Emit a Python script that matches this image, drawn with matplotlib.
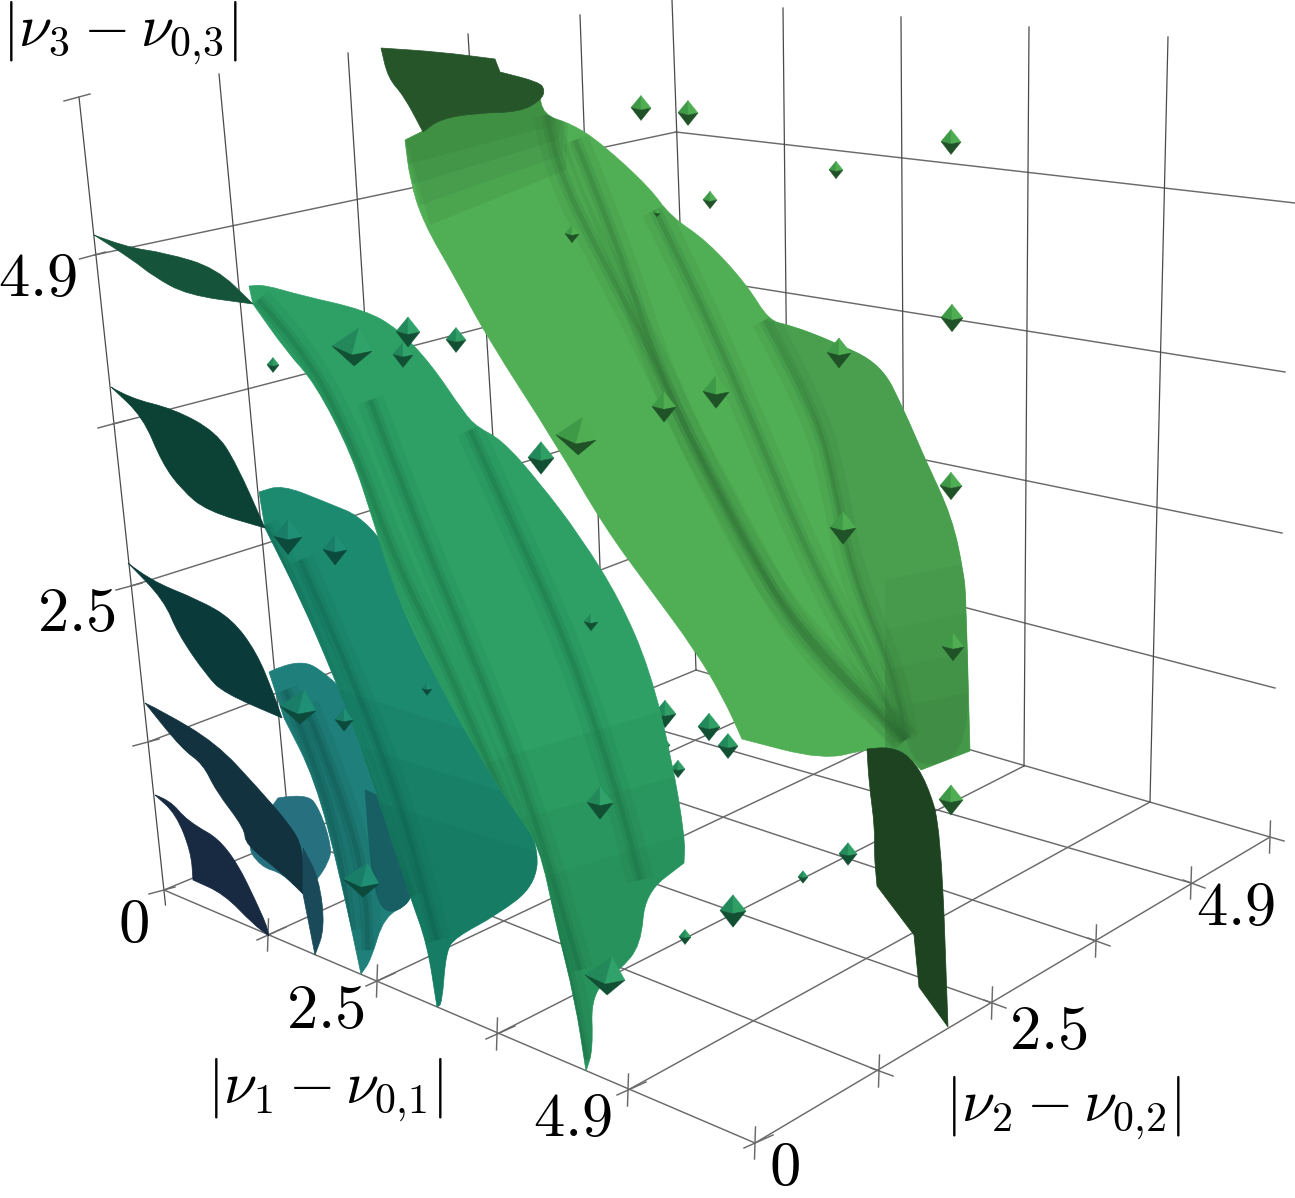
import matplotlib
matplotlib.use("Agg")
import matplotlib.pyplot as plt
from matplotlib.path import Path
from matplotlib.patches import PathPatch

plt.rcParams['mathtext.fontset'] = 'cm'

origin = (164, 890)
near = (755, 1143)
right = (1270, 837)
back_floor = (696, 670)
back_top = (676, 132)

z_ticks = [(148, 742), (131, 586), (113, 424), (94.5, 255)]
nu1_ticks = [(268, 935), (377, 981), (497, 1034), (628, 1090)]
nu2_ticks = [(879, 1071), (992, 1003), (1096, 941), (1191, 883)]

# floor and wall grid lines
floor_a = [[(268, 935), (790, 697)], [(377, 981), (905, 731)], [(497, 1034), (1024, 766)], [(628, 1090), (1150, 802)]]
floor_b = [[(294, 837), (879, 1071)], [(399, 793), (992, 1003)], [(512, 747), (1096, 941)], [(597, 712), (1191, 883)]]
left_wall_h = [[(94.5, 255), (676, 132)], [(113, 424), (681, 276)], [(131, 586), (686, 411)], [(148, 742), (690, 536)]]
left_wall_v = [[(219, 74), (290, 838)], [(348, 53), (395, 795)], [(468, 34), (512, 747)], [(580, 15), (605, 705)]]
right_wall_h = [[(676, 132), (1295, 203)], [(681, 276), (1285, 372)], [(686, 411), (1282, 533)], [(690, 536), (1275, 688)]]
right_wall_v = [[(783, 8), (790, 697)], [(901, 17), (905, 731)], [(1029, 27), (1024, 766)], [(1168, 37), (1150, 802)]]
corner_line = [(672, 0), (696, 670)]
z_axis = [(79, 97), (165.5, 905)]

# surfaces, back to front; a repeated point keeps a sharp corner
s5_body = [(405, 140), (405, 140), (423, 131), (423, 131), (440, 119), (477, 113), (510, 103), (539, 90), (539, 90),
           (543, 115), (572, 124), (601, 143), (650, 188), (670, 216), (707, 241), (747, 285), (769, 321), (790, 325),
           (832, 341), (881, 364), (904, 410), (925, 459), (952, 517), (964, 574), (966, 600), (970, 751), (970, 751),
           (921, 770), (921, 770), (902, 749), (867, 749), (823, 760), (742, 739), (742, 739), (724, 699), (695, 650),
           (650, 589), (605, 528), (556, 444), (487, 337), (456, 279), (423, 222), (410, 180)]
s5_right = [(769, 321), (790, 325), (832, 341), (881, 364), (904, 410), (925, 459), (952, 517), (964, 574), (966, 600),
            (970, 751), (921, 770), (905, 740), (895, 680), (850, 570), (835, 490), (815, 410)]
s5_shade = [[(885, 580), (885, 580), (980, 560), (980, 560), (980, 790), (980, 790), (885, 790), (885, 790)],
            [(885, 630), (885, 630), (980, 610), (980, 610), (980, 790), (980, 790), (885, 790), (885, 790)],
            [(885, 670), (885, 670), (980, 650), (980, 650), (980, 790), (980, 790), (885, 790), (885, 790)],
            [(885, 710), (885, 710), (980, 690), (980, 690), (980, 790), (980, 790), (885, 790), (885, 790)]]
s5_top = [[(395, 100), (395, 100), (570, 70), (570, 70), (555, 125), (555, 125), (405, 165), (405, 165)],
          [(395, 100), (395, 100), (570, 70), (570, 70), (558, 140), (558, 140), (410, 185), (410, 185)],
          [(395, 100), (395, 100), (570, 70), (570, 70), (562, 155), (562, 155), (420, 205), (420, 205)],
          [(395, 100), (395, 100), (570, 70), (570, 70), (566, 170), (566, 170), (430, 225), (430, 225)]]
s5_lid = [(381, 48), (381, 48), (440, 52), (495, 59), (495, 59), (500, 72), (500, 72), (539, 82), (545, 90), (541, 100),
          (520, 112), (477, 113), (440, 119), (423, 132), (423, 132), (404, 96), (388, 78)]
s5_sheet = [(867, 749), (867, 749), (890, 747), (910, 756), (927, 783), (941, 829), (948, 1027), (948, 1027), (919, 987),
            (919, 987), (914, 935), (914, 935), (877, 886), (877, 886), (874, 852), (875, 829), (869, 783)]
s5_ridges = [[(547, 115), (555, 165), (600, 255), (650, 350), (700, 460), (770, 590), (830, 660), (905, 740)],
             [(575, 140), (620, 250), (665, 390), (735, 520), (800, 640), (905, 740)],
             [(655, 210), (700, 300), (760, 440), (810, 560), (880, 690), (905, 740)],
             [(765, 320), (815, 410), (835, 490), (850, 570), (895, 680), (905, 740)]]

s1_bump = [(278, 798), (307, 793), (320, 810), (332, 848), (328, 863), (317, 880), (303, 894), (282, 873), (261, 867), (245, 844)]
s1_sheet = [(145, 703), (162, 711), (216, 743), (257, 787), (290, 825), (303, 848), (303, 894), (303, 894), (282, 873),
            (245, 844), (245, 829), (216, 791), (203, 764), (182, 749)]
s1_tail = [(303, 848), (303, 848), (319, 878), (325, 928), (315, 955), (315, 955), (303, 894), (303, 894)]
s0_sheet = [(155, 795), (170, 800), (187, 821), (228, 844), (265, 920), (269, 936), (269, 936), (253, 924), (224, 894),
            (193, 880), (193, 880), (191, 852), (176, 814)]

s2_body = [(269, 672), (298, 658), (328, 674), (370, 720), (420, 860), (412, 903), (384, 916), (371, 960), (361, 974),
           (361, 974), (340, 875), (315, 779), (284, 718), (284, 718)]
s2_mid = [(365, 790), (395, 800), (415, 870), (412, 903), (384, 916), (372, 880)]
s2_sheet = [(128, 563), (149, 580), (199, 600), (232, 619), (257, 653), (274, 695), (282, 718), (282, 718), (224, 693),
            (207, 676), (178, 634), (164, 600)]
s2_ridges = [[(285, 690), (310, 750), (340, 850), (350, 930)], [(305, 705), (340, 790), (365, 880), (368, 950)]]

s3_body = [(259, 492), (259, 492), (282, 485), (323, 501), (369, 520), (420, 600), (500, 760), (539, 844), (535, 886),
           (497, 915), (456, 937), (446, 951), (442, 1004), (437, 1007), (437, 1007), (427, 943), (410, 897), (361, 745),
           (332, 672), (301, 600), (265, 528), (265, 528)]
s3_sheet = [(111, 387), (129, 398), (174, 409), (216, 432), (236, 463), (265, 528), (265, 528), (207, 511), (182, 490),
            (162, 463), (143, 417)]
s3_ridges = [[(265, 525), (310, 620), (360, 760), (410, 897)], [(300, 560), (345, 660), (400, 800), (437, 940)]]
s3_low = [[(340, 690), (340, 690), (560, 760), (560, 760), (560, 1020), (560, 1020), (340, 1020), (340, 1020)],
          [(340, 740), (340, 740), (560, 810), (560, 810), (560, 1020), (560, 1020), (340, 1020), (340, 1020)],
          [(340, 790), (340, 790), (560, 860), (560, 860), (560, 1020), (560, 1020), (340, 1020), (340, 1020)]]

s4_body = [(249, 286), (249, 286), (265, 285), (299, 295), (365, 310), (398, 329), (431, 364), (464, 413), (477, 427),
           (502, 440), (539, 482), (580, 536), (620, 600), (650, 670), (672, 760), (685, 838), (684, 863), (684, 863),
           (645, 893), (641, 945), (620, 970), (591, 993), (593, 1050), (586, 1071), (586, 1071), (575, 1000), (556, 924),
           (539, 844), (514, 810), (477, 752), (435, 676), (398, 600), (373, 520), (352, 455), (315, 383), (287, 352),
           (253, 304), (253, 304)]
s4_sheet = [(94, 235), (125, 247), (166, 253), (216, 268), (253, 304), (253, 304), (187, 295), (153, 276), (133, 260)]
s4_ridges = [[(258, 300), (305, 350), (355, 450), (395, 560), (440, 650), (500, 790), (560, 930), (586, 1060)],
             [(370, 400), (415, 520), (470, 650), (530, 800), (580, 970)],
             [(470, 430), (520, 540), (570, 650), (620, 800), (640, 880)]]
s4_low = [[(460, 770), (460, 770), (700, 700), (700, 700), (700, 1090), (700, 1090), (460, 1090), (460, 1090)],
          [(480, 830), (480, 830), (700, 770), (700, 770), (700, 1090), (700, 1090), (480, 1090), (480, 1090)],
          [(500, 890), (500, 890), (700, 830), (700, 830), (700, 1090), (700, 1090), (500, 1090), (500, 1090)]]

# centre x, centre y, half width of the small octahedra
pts_back = [(641, 108, 10), (688, 113, 10), (951, 142, 10), (836, 170, 7), (710, 200, 7), (952, 318, 11), (951, 486, 11),
            (951, 800, 12)]
pts_on_s5 = [(657, 213, 3), (572, 234, 7), (839, 353, 12), (716, 392, 13), (664, 407, 12), (576, 436, 20), (843, 528, 13),
             (953, 647, 11)]
pts_mid_back = [(273, 365, 6), (456, 340, 10), (541, 458, 13), (665, 714, 11), (709, 727, 11), (728, 746, 10), (678, 769, 7),
                (665, 745, 5), (733, 911, 13), (848, 854, 9), (803, 877, 5), (685, 937, 6)]
pts_s4 = [(352, 347, 20), (408, 332, 12), (403, 355, 10), (591, 622, 7), (600, 803, 13), (605, 976, 20)]
pts_s3 = [(288, 537, 14), (335, 550, 12), (427, 689, 5), (344, 720, 9), (298, 707, 18), (361, 880, 18)]

tick_labels = [("4.9", 38, 279), ("2.5", 76, 614), ("0", 133, 925), ("2.5", 325, 1011), ("4.9", 573, 1119),
               ("0", 784, 1168), ("2.5", 1048, 1032), ("4.9", 1236, 908)]
axis_labels = [(r"$|\nu_3 - \nu_{0{,}3}|$", 120, 33), (r"$|\nu_1 - \nu_{0{,}1}|$", 325, 1090), (r"$|\nu_2 - \nu_{0{,}2}|$", 1063, 1108)]


def smooth(pts, closed=True):
    # quadratic curve through the midpoints, ends stay on the first point
    rest = pts[1:] + [pts[0]] if closed else pts[1:]
    verts = [pts[0]]
    codes = [Path.MOVETO]
    for a, b in zip(rest[:-1], rest[1:]):
        verts += [a, ((a[0] + b[0]) / 2, (a[1] + b[1]) / 2)]
        codes += [Path.CURVE3, Path.CURVE3]
    verts.append(rest[-1])
    codes.append(Path.LINETO)
    return Path(verts, codes)


def surface(ax, pts, color, z, clip=None, alpha=None):
    lw = 0 if alpha else 0.5
    patch = PathPatch(smooth(pts), fc=color, ec=color, lw=lw, zorder=z, alpha=alpha)
    ax.add_patch(patch)
    if clip is not None:
        patch.set_clip_path(clip)
    return patch


def ridges(ax, lines, color, clip, z, lw=9):
    for line in lines:
        for w, a in [(lw * 2.2, 0.10), (lw, 0.16), (lw * 0.4, 0.25)]:
            p = PathPatch(smooth(line, closed=False), fc='none', ec=color, lw=w, alpha=a, zorder=z, capstyle='butt')
            ax.add_patch(p)
            p.set_clip_path(clip)


def octa(ax, pts, light, mid, dark, z):
    for x, y, r in pts:
        # the big ones sit tilted and show less of their dark side
        big = r >= 16
        h = 0.95 * r if big else 1.25 * r
        lean = 0.35 * r if big else 0
        left, rgt, front = (x - r, y - 0.05 * r), (x + r, y + lean * 0.6), (x, y + (0.4 if big else 0.2) * r)
        top, bottom = (x + lean, y - h), (x + lean * 0.3, y + h)
        ax.fill(*zip(top, left, front), fc=mid, ec=mid, lw=0.3, zorder=z)
        ax.fill(*zip(top, front, rgt), fc=light, ec=light, lw=0.3, zorder=z)
        ax.fill(*zip(left, front, rgt, bottom), fc=dark, ec=dark, lw=0.3, zorder=z)


fig = plt.figure(figsize=(12.95, 11.98), dpi=100)
ax = fig.add_axes([0, 0, 1, 1])
ax.set_xlim(0, 1295)
ax.set_ylim(1198, 0)
ax.axis('off')

grid_kw = dict(color='#6a6a6a', lw=1.05, zorder=1)
wall_kw = dict(color='#4a4a4a', lw=0.9, zorder=1)
for line in floor_a + floor_b:
    ax.plot(*zip(*line), **grid_kw)
ax.plot(*zip(origin, near), **grid_kw)
ax.plot(*zip(near, right, (1284, 841)), **grid_kw)
ax.plot(*zip(origin, back_floor), **grid_kw)
ax.plot(*zip(back_floor, right), **grid_kw)
for line in left_wall_h + right_wall_h:
    ax.plot(*zip(*line), **grid_kw)
for line in left_wall_v + right_wall_v:
    ax.plot(*zip(*line), **wall_kw)
ax.plot(*zip(*corner_line), **wall_kw)
ax.plot(*zip(*z_axis), **wall_kw)

# tick crosses
for x, y in z_ticks + [origin, (79, 97)]:
    ax.plot([x - 15, x + 11], [y + 4, y - 3], **grid_kw)
for x, y in nu1_ticks + nu2_ticks + [near, right]:
    ax.plot([x + 0.5, x - 0.5], [y - 16, y + 16], **grid_kw)
for x, y in nu1_ticks + [near]:
    ax.plot([x - 11, x + 18], [y + 5, y - 8], **grid_kw)
for x, y in nu2_ticks:
    ax.plot([x - 8, x + 14], [y - 3, y + 5], **grid_kw)

octa(ax, pts_back, '#4fae52', '#3f9a47', '#1f5226', 2)

b5 = surface(ax, s5_body, '#50ae54', 3)
surface(ax, s5_right, '#4a9f4e', 3.1, clip=b5)
for pts in s5_shade:
    surface(ax, pts, '#2f6f35', 3.15, clip=b5, alpha=0.09)
for pts in s5_top:
    surface(ax, pts, '#2f6f35', 3.15, clip=b5, alpha=0.14)
ridges(ax, s5_ridges, '#2c6a33', b5, 3.2)
surface(ax, s5_lid, '#27552a', 3.4)
octa(ax, pts_on_s5, '#4fae52', '#3f9a47', '#1f5226', 3.5)
surface(ax, s5_sheet, '#1d4320', 3.6)

octa(ax, pts_mid_back, '#2f9f66', '#22895a', '#125034', 3.7)

surface(ax, s1_bump, '#26707f', 4)
surface(ax, s1_sheet, '#12323f', 4.1)
surface(ax, s1_tail, '#1a4a5a', 4.1)
surface(ax, s0_sheet, '#172a42', 4.1)
b2 = surface(ax, s2_body, '#1f7f7a', 4.2)
surface(ax, s2_mid, '#175f62', 4.25)
ridges(ax, s2_ridges, '#0c4a48', b2, 4.27)
surface(ax, s2_sheet, '#0b3a3a', 4.3)
b3 = surface(ax, s3_body, '#1c8a6e', 4.4)
for pts in s3_low:
    surface(ax, pts, '#0e5a4a', 4.42, clip=b3, alpha=0.1)
ridges(ax, s3_ridges, '#0e5a4a', b3, 4.45)
surface(ax, s3_sheet, '#0c4236', 4.5)
octa(ax, pts_s3, '#1f8f76', '#1a7d68', '#0c4a3c', 4.6)

b4 = surface(ax, s4_body, '#2ea066', 5)
for pts in s4_low:
    surface(ax, pts, '#17663f', 5.05, clip=b4, alpha=0.08)
ridges(ax, s4_ridges, '#17663f', b4, 5.1)
surface(ax, s4_sheet, '#15543a', 5.2)
octa(ax, pts_s4, '#2fa36a', '#23895a', '#125034', 5.3)

for text, x, y in tick_labels:
    ax.text(x, y, f"${text}$", fontsize=45, ha='center', va='center', zorder=8)
for text, x, y in axis_labels:
    ax.text(x, y, text, fontsize=43, ha='center', va='center', zorder=8)

fig.savefig('out.png', dpi=100)
